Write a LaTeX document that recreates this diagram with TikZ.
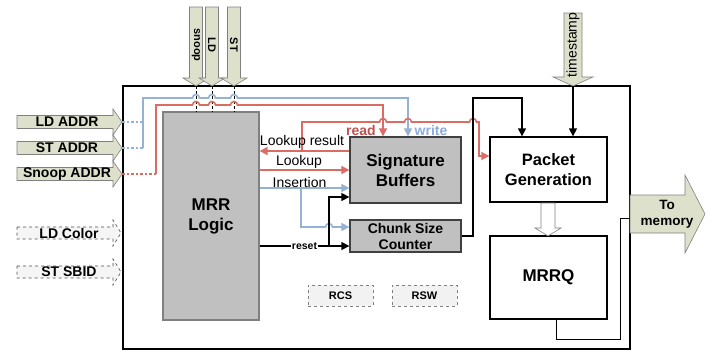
\documentclass[tikz,border=0pt]{standalone}
\usepackage{fontspec}
\setmainfont{Liberation Sans}
\usetikzlibrary{arrows.meta}
\definecolor{arrfill}{RGB}{221,225,203}
\definecolor{redln}{RGB}{218,108,100}
\definecolor{blueln}{RGB}{148,178,214}
\definecolor{readred}{RGB}{192,80,77}
\definecolor{writeblue}{RGB}{142,172,220}
\definecolor{boxgray}{RGB}{192,192,192}
\begin{document}
\begin{tikzpicture}[x=1pt,y=-1pt,
  tip/.style={-{Triangle[length=8pt,width=8pt]}},
  rd/.style={redln,line width=1.6pt},
  bl/.style={blueln,line width=1.6pt},
  bk/.style={black,line width=1.3pt},
  dots/.style={dash pattern=on 2.5pt off 2pt},
  blockarr/.style={draw=gray,fill=arrfill,line width=.6pt},
  dasharr/.style={draw=black!70,dashed,fill=gray!8,line width=.6pt},
  graybox/.style={draw=black!75,fill=boxgray,line width=1.3pt,inner sep=0pt,align=center,font=\fontsize{17}{20}\selectfont\bfseries},
  whitebox/.style={draw,fill=white,line width=1.3pt,inner sep=0pt,align=center,font=\fontsize{16.5}{20}\selectfont\bfseries},
  regbox/.style={draw=gray,dashed,fill=gray!10,minimum width=65pt,minimum height=21pt,font=\fontsize{11}{13}\selectfont\bfseries},
  lbl/.style={font=\fontsize{14}{16}\selectfont\bfseries,inner sep=0pt},
  txt/.style={font=\fontsize{14}{16}\selectfont,inner sep=0pt}]
\useasboundingbox (0,0) rectangle (712,351);
\draw[line width=2.5pt,fill=white] (123,86) rectangle (630,349);
% inputs on the left
\foreach \yy/\lab/\nm in {122/LD ADDR/ldaddr,148/ST ADDR/staddr,174/Snoop ADDR/snaddr}{
  \draw[blockarr] (17,\yy-6.5) -- (113,\yy-6.5) -- (113,\yy-13) -- (122,\yy) -- (113,\yy+13) -- (113,\yy+6.5) -- (17,\yy+6.5) -- cycle;
  \node[lbl] (\nm) at (67,\yy) {\lab};
  \coordinate (\nm-tip) at (122,\yy);
}
\foreach \yy/\lab/\nm in {233/LD Color/ldcol,272/ST SBID/stsbid}{
  \draw[dasharr] (17,\yy-6) -- (113,\yy-6) -- (113,\yy-13) -- (121,\yy) -- (113,\yy+13) -- (113,\yy+6) -- (17,\yy+6) -- cycle;
  \node[lbl] (\nm) at (69,\yy) {\lab};
}
% inputs on top
\foreach \xx/\lab/\nm in {196/snoop/snp,212/LD/ldin,234/ST/stin}{
  \draw[blockarr] (\xx-6.5,7) -- (\xx+6.5,7) -- (\xx+6.5,78) -- (\xx+13,78) -- (\xx,86) -- (\xx-13,78) -- (\xx-6.5,78) -- cycle;
  \node[lbl,rotate=-90,font=\fontsize{11}{13}\selectfont\bfseries] (\nm) at (\xx,45) {\lab};
  \coordinate (\nm-tip) at (\xx,86);
}
\draw[blockarr] (564,13) -- (582,13) -- (582,77) -- (593,77) -- (573,86) -- (553,77) -- (564,77) -- cycle;
\node[txt,rotate=90] (ts) at (573,45) {timestamp};
\coordinate (ts-tip) at (573,86);
% output
\draw[blockarr] (630,195) -- (685,195) -- (685,175) -- (705,214) -- (685,253) -- (685,233) -- (630,233) -- cycle;
\node[lbl,align=center,font=\fontsize{13.5}{16}\selectfont\bfseries] (tomem) at (667,214) {To\\memory};
\coordinate (memin) at (630,218);
% blocks
\node[graybox,draw=black!50,minimum width=96pt,minimum height=208pt] (mrr) at (211,216) {MRR\\Logic};
\node[graybox,minimum width=111pt,minimum height=66pt] (sig) at (405.5,170) {Signature\\Buffers};
\node[graybox,minimum width=111pt,minimum height=32pt,font=\fontsize{14}{16}\selectfont\bfseries] (csc) at (405.5,236) {Chunk Size\\Counter};
\node[whitebox,minimum width=117pt,minimum height=65pt] (pkt) at (548.5,169.5) {Packet\\Generation};
\node[whitebox,minimum width=117pt,minimum height=83pt,font=\fontsize{17}{20}\selectfont\bfseries] (mrrq) at (548.5,277.5) {MRRQ};
\node[regbox] (rcs) at (340.5,295.5) {RCS};
\node[regbox] (rsw) at (424.5,295.5) {RSW};
\draw[draw=gray,fill=white,line width=.6pt] (541,203) -- (555,203) -- (555,228) -- (561,228) -- (548,236) -- (535,228) -- (541,228) -- cycle;
% connectors
\foreach \nm in {snp,ldin,stin} \draw[bk,line width=1pt,dash pattern=on 3pt off 2pt] (\nm-tip) -- (\nm-tip |- mrr.north);
\draw[bl,dots] (ldaddr-tip) -- ++(21,0);
\draw[bl,dots] (staddr-tip) -- ++(21,0);
\draw[bl,tip] ([xshift=21pt]staddr-tip) |- (192.5,98) arc[start angle=180,end angle=0,radius=3.5pt] -- (208.5,98) arc[start angle=180,end angle=0,radius=3.5pt] -- (230.5,98) arc[start angle=180,end angle=0,radius=3.5pt] -- (408,98) -- (sig.north -| 408,0);
\draw[rd,dots] (snaddr-tip) -- ++(34,0);
\draw[rd,tip] ([xshift=34pt]snaddr-tip) |- (192.5,105) arc[start angle=180,end angle=0,radius=3.5pt] -- (208.5,105) arc[start angle=180,end angle=0,radius=3.5pt] -- (230.5,105) arc[start angle=180,end angle=0,radius=3.5pt] -- (383,105) -- (sig.north -| 383,0);
\coordinate (lrj) at (302,151);
\draw[rd,tip] (sig.west |- lrj) -- (mrr.east |- lrj);
\draw[rd,tip] (lrj) -- (302,122) -- (379.5,122) arc[start angle=180,end angle=0,radius=3.5pt] -- (404.5,122) arc[start angle=180,end angle=0,radius=3.5pt] -- (469.5,122) arc[start angle=180,end angle=0,radius=3.5pt] -- (479,122) |- (pkt.west |- 0,156);
\draw[rd,tip] (mrr.east |- sig.west) -- (sig.west);
\coordinate (insj) at (301,188);
\draw[bl,tip] (mrr.east |- insj) -- (sig.west |- insj);
\draw[bl,tip] (insj) |- (325.5,227) arc[start angle=180,end angle=0,radius=3.5pt] -- (csc.west |- 0,227);
\coordinate (rstj) at (329,246);
\draw[bk,tip] (mrr.east |- rstj) -- node[fill=white,inner sep=1pt,font=\fontsize{10.5}{12}\selectfont\bfseries] {reset} (csc.west |- rstj);
\draw[bk,tip] (rstj) |- (sig.west |- 0,197);
\draw[bk,tip] (csc.east) -| (473,98) -| (pkt.north -| 522,0);
\draw[bk,tip] (ts-tip) -- (pkt.north -| ts-tip);
\draw[bk,line width=1pt] (mrrq.south -| 556,0) |- (620,339) |- (memin);
% labels
\node[txt] (lrlbl) at (302,142) {Lookup result};
\node[txt] (lklbl) at (299,162) {Lookup};
\node[txt] (inlbl) at (299.5,182) {Insertion};
\node[lbl,text=readred] (rdlbl) at (361,130) {read};
\node[lbl,text=writeblue] (wrlbl) at (431,130) {write};
\end{tikzpicture}
\end{document}
